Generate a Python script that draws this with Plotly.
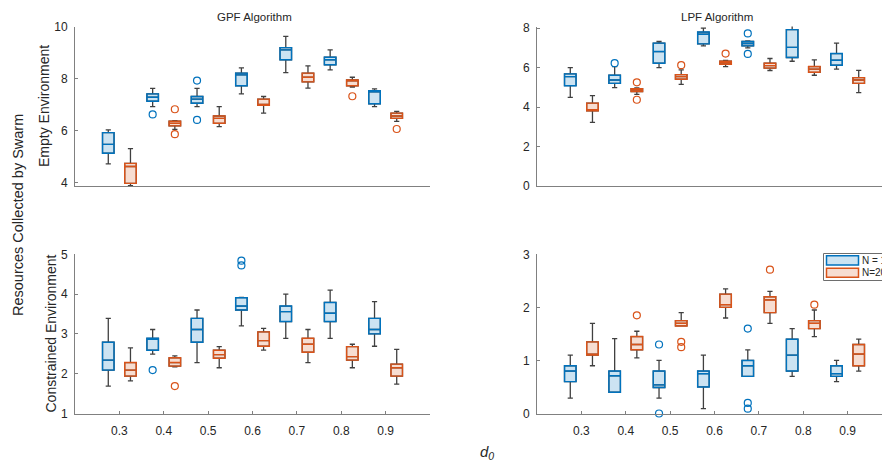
import plotly.graph_objects as go

# ---------------- data ----------------
d0 = [0.3, 0.4, 0.5, 0.6, 0.7, 0.8, 0.9]
d0_labels = ["0.3", "0.4", "0.5", "0.6", "0.7", "0.8", "0.9"]
series_names = ["N = 10", "N=20"]

# GPF algorithm, empty environment
gpf_empty_n10_lw = [4.72, 6.92, 6.92, 7.41, 8.23, 8.33, 6.92]
gpf_empty_n10_q1 = [5.13, 7.13, 7.05, 7.72, 8.72, 8.53, 7.03]
gpf_empty_n10_med = [5.47, 7.28, 7.21, 8.14, 9.10, 8.72, 7.50]
gpf_empty_n10_q3 = [5.92, 7.41, 7.31, 8.21, 9.19, 8.82, 7.53]
gpf_empty_n10_uw = [6.03, 7.62, 7.62, 8.41, 9.62, 9.10, 7.60]
gpf_empty_n10_out = [[], [6.62], [7.92, 6.41], [], [], [], []]

gpf_empty_n20_lw = [3.88, 6.05, 6.15, 6.67, 7.63, 7.67, 6.35]
gpf_empty_n20_q1 = [3.97, 6.18, 6.28, 6.97, 7.87, 7.72, 6.47]
gpf_empty_n20_med = [4.62, 6.28, 6.47, 7.00, 8.05, 7.91, 6.56]
gpf_empty_n20_q3 = [4.74, 6.36, 6.56, 7.21, 8.21, 7.95, 6.67]
gpf_empty_n20_uw = [5.31, 6.38, 6.92, 7.31, 8.49, 8.05, 6.74]
gpf_empty_n20_out = [[], [6.82, 5.86], [], [], [], [7.32], [6.06]]

# LPF algorithm, empty environment
lpf_empty_n10_lw = [4.49, 4.98, 6.00, 7.10, 7.00, 6.32, 5.92]
lpf_empty_n10_q1 = [5.08, 5.20, 6.22, 7.20, 7.10, 6.51, 6.12]
lpf_empty_n10_med = [5.54, 5.37, 6.81, 7.69, 7.22, 7.02, 6.37]
lpf_empty_n10_q3 = [5.68, 5.61, 7.24, 7.80, 7.32, 7.92, 6.71]
lpf_empty_n10_uw = [6.00, 6.05, 7.32, 8.00, 7.35, 8.14, 7.24]
lpf_empty_n10_out = [[], [6.22], [], [], [7.73, 6.69], [], []]

lpf_empty_n20_lw = [3.22, 4.64, 5.15, 6.05, 5.85, 5.61, 4.73]
lpf_empty_n20_q1 = [3.81, 4.78, 5.41, 6.17, 5.97, 5.76, 5.20]
lpf_empty_n20_med = [3.85, 4.86, 5.54, 6.25, 6.10, 5.92, 5.37]
lpf_empty_n20_q3 = [4.20, 4.93, 5.64, 6.32, 6.22, 6.05, 5.49]
lpf_empty_n20_uw = [4.58, 4.97, 5.88, 6.36, 6.46, 6.39, 5.86]
lpf_empty_n20_out = [[], [5.25, 4.37], [6.12], [6.71], [], [], []]

# GPF algorithm, constrained environment
gpf_cons_n10_lw = [1.69, 2.49, 2.28, 3.20, 2.89, 2.89, 2.69]
gpf_cons_n10_q1 = [2.09, 2.59, 2.79, 3.60, 3.31, 3.31, 3.00]
gpf_cons_n10_med = [2.34, 2.87, 3.11, 3.70, 3.56, 3.52, 3.11]
gpf_cons_n10_q3 = [2.79, 2.89, 3.39, 3.91, 3.70, 3.79, 3.39]
gpf_cons_n10_uw = [3.39, 3.11, 3.60, 3.92, 4.00, 4.10, 3.81]
gpf_cons_n10_out = [[], [2.09], [], [4.84, 4.72], [], [], []]

gpf_cons_n20_lw = [1.82, 2.17, 2.15, 2.59, 2.28, 2.15, 1.74]
gpf_cons_n20_q1 = [1.94, 2.19, 2.39, 2.69, 2.54, 2.34, 1.94]
gpf_cons_n20_med = [2.09, 2.28, 2.48, 2.83, 2.74, 2.43, 2.15]
gpf_cons_n20_q3 = [2.28, 2.40, 2.59, 3.05, 2.89, 2.68, 2.24]
gpf_cons_n20_uw = [2.65, 2.45, 2.68, 3.14, 3.11, 2.74, 2.61]
gpf_cons_n20_out = [[], [1.69], [], [], [], [], []]

# LPF algorithm, constrained environment
lpf_cons_n10_lw = [0.29, 0.40, 0.29, 0.09, 0.70, 0.70, 0.60]
lpf_cons_n10_q1 = [0.60, 0.40, 0.49, 0.50, 0.70, 0.80, 0.70]
lpf_cons_n10_med = [0.80, 0.71, 0.54, 0.75, 0.90, 1.10, 0.75]
lpf_cons_n10_q3 = [0.90, 0.80, 0.80, 0.80, 1.00, 1.40, 0.90]
lpf_cons_n10_uw = [1.10, 1.41, 1.00, 1.10, 1.20, 1.60, 1.00]
lpf_cons_n10_out = [[], [], [1.30, 0.00], [], [1.60, 0.20, 0.09], [], []]

lpf_cons_n20_lw = [0.90, 1.05, 1.65, 1.80, 1.70, 1.45, 0.80]
lpf_cons_n20_q1 = [1.10, 1.20, 1.65, 2.00, 1.90, 1.60, 0.90]
lpf_cons_n20_med = [1.11, 1.30, 1.70, 2.05, 2.14, 1.70, 1.12]
lpf_cons_n20_q3 = [1.35, 1.45, 1.75, 2.25, 2.20, 1.75, 1.30]
lpf_cons_n20_uw = [1.70, 1.55, 1.90, 2.35, 2.30, 1.95, 1.40]
lpf_cons_n20_out = [[], [1.85], [1.35, 1.25], [], [2.71], [2.05], []]

# ---------------- style ----------------
W, H = 882, 464
BLUE = "#0072BD"
ORANGE = "#D95319"
BLUE_FILL = "rgba(0,114,189,0.2)"
ORANGE_FILL = "rgba(217,83,25,0.2)"
WHISK = "#404040"
AXC = "#808080"
TXT = "#262626"
FONT = "Liberation Sans, Arial, sans-serif"
OFFSET = 0.025
BOXW = 0.026


def fx(p):
    return p / W


def fy(p):
    return 1 - p / H


fig = go.Figure()


def add_series(xa, ya, lw, q1, med, q3, uw, outl, offset, color, fill):
    pos = [d + offset for d in d0]
    # whiskers (dark grey) drawn first
    fig.add_trace(go.Box(
        x=pos, q1=q1, median=med, q3=q3, lowerfence=lw, upperfence=uw,
        width=BOXW, whiskerwidth=0.45, line=dict(color=WHISK, width=1.3),
        fillcolor="rgba(0,0,0,0)", boxpoints=False, showlegend=False,
        hoverinfo="skip", xaxis=xa, yaxis=ya))
    # coloured box on top
    fig.add_trace(go.Box(
        x=pos, q1=q1, median=med, q3=q3, lowerfence=q1, upperfence=q3,
        width=BOXW, whiskerwidth=0, line=dict(color=color, width=1.4),
        fillcolor=fill, boxpoints=False, showlegend=False,
        xaxis=xa, yaxis=ya))
    ox, oy = [], []
    for p, vals in zip(pos, outl):
        for v in vals:
            ox.append(p)
            oy.append(v)
    if ox:
        fig.add_trace(go.Scatter(
            x=ox, y=oy, mode="markers", cliponaxis=False,
            marker=dict(symbol="circle-open", size=7, color=color,
                        line=dict(width=1.2, color=color)),
            showlegend=False, xaxis=xa, yaxis=ya))


panels = [
    ("x", "y",
     (gpf_empty_n10_lw, gpf_empty_n10_q1, gpf_empty_n10_med, gpf_empty_n10_q3, gpf_empty_n10_uw, gpf_empty_n10_out),
     (gpf_empty_n20_lw, gpf_empty_n20_q1, gpf_empty_n20_med, gpf_empty_n20_q3, gpf_empty_n20_uw, gpf_empty_n20_out)),
    ("x2", "y2",
     (lpf_empty_n10_lw, lpf_empty_n10_q1, lpf_empty_n10_med, lpf_empty_n10_q3, lpf_empty_n10_uw, lpf_empty_n10_out),
     (lpf_empty_n20_lw, lpf_empty_n20_q1, lpf_empty_n20_med, lpf_empty_n20_q3, lpf_empty_n20_uw, lpf_empty_n20_out)),
    ("x3", "y3",
     (gpf_cons_n10_lw, gpf_cons_n10_q1, gpf_cons_n10_med, gpf_cons_n10_q3, gpf_cons_n10_uw, gpf_cons_n10_out),
     (gpf_cons_n20_lw, gpf_cons_n20_q1, gpf_cons_n20_med, gpf_cons_n20_q3, gpf_cons_n20_uw, gpf_cons_n20_out)),
    ("x4", "y4",
     (lpf_cons_n10_lw, lpf_cons_n10_q1, lpf_cons_n10_med, lpf_cons_n10_q3, lpf_cons_n10_uw, lpf_cons_n10_out),
     (lpf_cons_n20_lw, lpf_cons_n20_q1, lpf_cons_n20_med, lpf_cons_n20_q3, lpf_cons_n20_uw, lpf_cons_n20_out)),
]

for xa, ya, s10, s20 in panels:
    add_series(xa, ya, *s10, -OFFSET, BLUE, BLUE_FILL)
    add_series(xa, ya, *s20, OFFSET, ORANGE, ORANGE_FILL)

left_dom = [fx(75), fx(430)]
right_dom = [fx(537), 1.0]
top_dom = [fy(186), fy(26.5)]
bot_dom = [fy(413.5), fy(254.3)]
pxu = (430 - 75) / 0.8
right_range = [0.2, 0.2 + (W - 537) / pxu]

tickfont = dict(family=FONT, size=12, color=TXT)


def xax(dom, rng, anchor, labels):
    d = dict(domain=dom, range=rng, anchor=anchor, showline=True,
             linecolor=AXC, linewidth=1, showgrid=False, zeroline=False,
             tickvals=d0, fixedrange=True, tickfont=tickfont)
    if labels:
        d.update(ticks="inside", ticklen=3, tickcolor=AXC, ticktext=d0_labels,
                 showticklabels=True, ticklabelstandoff=6)
    else:
        d.update(ticks="", showticklabels=False)
    return d


def yax(dom, rng, anchor, tv):
    return dict(domain=dom, range=rng, anchor=anchor, showline=True,
                linecolor=AXC, linewidth=1, showgrid=False, zeroline=False,
                tickvals=tv, ticks="inside", ticklen=3, tickcolor=AXC,
                tickfont=tickfont, fixedrange=True, ticklabelstandoff=4)


fig.update_layout(
    width=W, height=H, margin=dict(l=0, r=0, t=0, b=0, autoexpand=False),
    paper_bgcolor="white", plot_bgcolor="white", boxmode="overlay",
    showlegend=False, font=dict(family=FONT, color=TXT),
    xaxis=xax(left_dom, [0.2, 1.0], "y", False),
    yaxis=yax(top_dom, [3.87, 10.0], "x", [4, 6, 8, 10]),
    xaxis2=xax(right_dom, right_range, "y2", False),
    yaxis2=yax(top_dom, [0, 8.08], "x2", [0, 2, 4, 6, 8]),
    xaxis3=xax(left_dom, [0.2, 1.0], "y3", True),
    yaxis3=yax(bot_dom, [1, 5], "x3", [1, 2, 3, 4, 5]),
    xaxis4=xax(right_dom, right_range, "y4", True),
    yaxis4=yax(bot_dom, [0, 3], "x4", [0, 1, 2, 3]),
)

ann = [
    dict(text="GPF Algorithm", x=fx(254), y=fy(17), size=11.5, angle=0),
    dict(text="LPF Algorithm", x=fx(716.5), y=fy(17), size=11.5, angle=0),
    dict(text="Empty Environment", x=fx(44), y=fy(106), size=14, angle=-90),
    dict(text="Constrained Environment", x=fx(50.5), y=fy(334), size=14, angle=-90),
    dict(text="Resources Collected by Swarm", x=fx(18), y=fy(215), size=14.5, angle=-90),
    dict(text="<i>d</i><sub><i>0</i></sub>", x=fx(487), y=fy(452), size=15, angle=0),
]
for a in ann:
    fig.add_annotation(text=a["text"], x=a["x"], y=a["y"], xref="paper", yref="paper",
                       xanchor="center", yanchor="middle", showarrow=False,
                       textangle=a["angle"],
                       font=dict(family=FONT, size=a["size"], color=TXT))

# legend (manual, partially cut by the right edge like the reference)
fig.add_shape(type="rect", xref="paper", yref="paper",
              x0=fx(823.5), x1=fx(930), y0=fy(280.5), y1=fy(253.5),
              line=dict(color="#6e6e6e", width=1), fillcolor="white")
leg = [(BLUE, BLUE_FILL, 255.7, 265.0, series_names[0]),
       (ORANGE, ORANGE_FILL, 268.3, 277.3, series_names[1])]
for col, fill, y0, y1, name in leg:
    fig.add_shape(type="rect", xref="paper", yref="paper",
                  x0=fx(826.5), x1=fx(858.5), y0=fy(y1), y1=fy(y0),
                  line=dict(color=col, width=1.5), fillcolor=fill)
    fig.add_annotation(text=name, x=fx(860), y=fy((y0 + y1) / 2), xref="paper",
                       yref="paper", xanchor="left", yanchor="middle",
                       showarrow=False, font=dict(family=FONT, size=10, color=TXT))

fig.write_html("out.html",
               config={"displayModeBar": False},
               post_script="document.body.style.margin='0';"
                           "document.body.style.overflow='hidden';")
